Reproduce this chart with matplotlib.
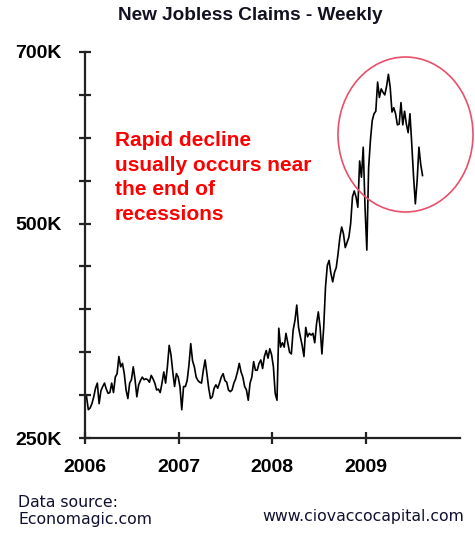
import matplotlib.pyplot as plt
import pandas as pd
from matplotlib.patches import Ellipse

# weekly initial jobless claims, thousands, from the week of 2006-01-07
claims = [
    298, 283, 285, 290, 298, 308, 314, 290, 305, 310,
    314, 307, 302, 303, 314, 303, 321, 325, 345, 333,
    337, 325, 306, 296, 314, 318, 333, 318, 298, 312,
    317, 321, 318, 319, 318, 315, 323, 319, 314, 306,
    307, 303, 314, 327, 314, 333, 358, 347, 327, 310,
    325, 321, 310, 283, 310, 310, 317, 335, 360, 340,
    333, 321, 317, 315, 314, 329, 341, 325, 308, 296,
    298, 308, 312, 308, 314, 321, 325, 317, 315, 306,
    304, 306, 314, 319, 327, 337, 327, 321, 310, 306,
    294, 314, 321, 339, 329, 329, 337, 341, 331, 345,
    352, 343, 354, 347, 333, 302, 294, 378, 356, 361,
    356, 372, 361, 350, 348, 376, 387, 405, 379, 368,
    358, 345, 379, 368, 372, 370, 372, 361, 383, 397,
    379, 348, 379, 426, 451, 457, 442, 432, 443, 449,
    465, 484, 496, 488, 472, 478, 484, 500, 531, 538,
    531, 519, 573, 554, 589, 519, 469, 565, 597, 620,
    628, 631, 665, 647, 657, 653, 650, 660, 674, 659,
    630, 635, 628, 615, 616, 641, 615, 631, 616, 606,
    628, 593, 555, 523, 550, 589, 569, 556,
]
weeks = pd.date_range('2006-01-07', periods=len(claims), freq='7D')

years = ['2006', '2007', '2008', '2009']
y_ticks = [250, 300, 350, 400, 450, 500, 550, 600, 650, 700]
y_labels = ['250K', '', '', '', '', '500K', '', '', '', '700K']

plt.rcParams['font.family'] = ['Liberation Sans', 'DejaVu Sans']

W, H = 475, 535
fig = plt.figure(figsize=(W / 100, H / 100), dpi=100)
ax = fig.add_axes([85 / W, 1 - 438 / H, 375 / W, 386 / H])

ax.plot(weeks, claims, color='black', lw=1.2)

ax.set_xlim(pd.Timestamp('2006-01-01'), pd.Timestamp('2010-01-01'))
ax.set_ylim(250, 700)
ax.set_xticks([pd.Timestamp(y + '-01-01') for y in years])
ax.set_xticklabels(years, fontsize=14, fontweight='bold')
ax.set_yticks(y_ticks)
ax.set_yticklabels(y_labels, fontsize=14, fontweight='bold')

for side in ['top', 'right']:
    ax.spines[side].set_visible(False)
for side in ['left', 'bottom']:
    ax.spines[side].set_linewidth(1.6)
    ax.spines[side].set_color('#222222')
ax.tick_params(direction='inout', length=8, width=1.6, color='#222222')
ax.tick_params(axis='y', pad=13)
ax.tick_params(axis='x', pad=11)

fig.text(250 / W, 1 - 16 / H, 'New Jobless Claims - Weekly', ha='center',
         va='center', fontsize=13.7, fontweight='bold', color='#111122')

fig.text(115 / W, 1 - 131 / H,
         'Rapid decline\nusually occurs near\nthe end of\nrecessions',
         ha='left', va='top', fontsize=15, fontweight='bold', color='red',
         linespacing=1.37)

fig.add_artist(Ellipse((405.5 / W, 1 - 134.5 / H), 135 / W, 155 / H,
                       fill=False, ec='#e8506a', lw=1.2))

fig.text(18 / W, 1 - 495 / H, 'Data source:\nEconomagic.com', ha='left',
         va='top', fontsize=11.3, color='#101030', linespacing=1.2,
         family='DejaVu Sans')
fig.text(464 / W, 1 - 521 / H, 'www.ciovaccocapital.com', ha='right',
         va='baseline', fontsize=11.3, color='#101030', family='DejaVu Sans')

fig.savefig('out.png', dpi=100)
